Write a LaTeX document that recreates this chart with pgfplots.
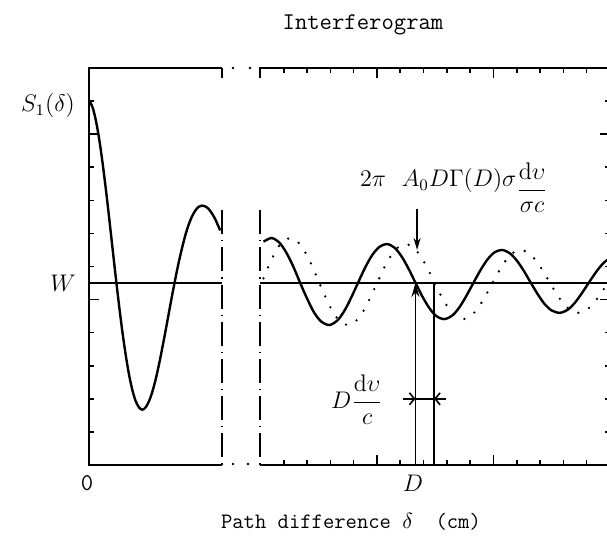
\documentclass[border=0pt]{standalone}
\usepackage{pgfplots}
\pgfplotsset{compat=1.18}
\usetikzlibrary{arrows.meta}
\begin{document}
\begin{tikzpicture}
\useasboundingbox (0,0) rectangle (303.5pt,-272pt);
\clip (0,0) rectangle (303.5pt,-272pt);
\fill[white] (0,0) rectangle (303.5pt,-272pt);
\pgfplotsset{
  panel/.style={scale only axis, anchor=south west, height=198.5pt, ymin=0, ymax=12,
    axis line style={draw=none}, tick align=inside,
    xticklabels={}, yticklabels={},
    major tick length=5pt, minor tick length=2.5pt,
    tick style={black, line width=0.8pt},
    clip=false},
}
% ---------------- left panel ----------------
\begin{axis}[panel, at={(44.75pt,-232.5pt)}, width=66pt, xmin=0, xmax=5,
  xtick=\empty, minor xtick={1,2,3,4}, xtick pos=both,
  ytick={5,10}, minor ytick={1,2,3,4,6,7,8,9,11}, ytick pos=left]
\draw[line width=1pt] (axis cs:5,12) -- (axis cs:0,12) -- (axis cs:0,0) -- (axis cs:5,0);
\draw[line width=1pt] (axis cs:5,12) -- (axis cs:5,11.7);
\draw[line width=1pt, dash pattern=on 12pt off 3pt on 0.6pt off 3pt] (axis cs:5,7.7) -- (axis cs:5,0);
\addplot[black, line width=1pt] coordinates {(0,5.5) (5,5.5)};
\addplot[black, line width=1.2pt, smooth] coordinates {
(0,11.0) (0.125,10.79) (0.25,10.38) (0.375,9.81) (0.5,9.10) (0.625,8.30) (0.75,7.43)
(0.875,6.53) (1.0,5.64) (1.125,4.79) (1.25,4.00) (1.375,3.31) (1.5,2.72) (1.625,2.26)
(1.75,1.93) (1.875,1.74) (2.0,1.67) (2.125,1.74) (2.25,1.92) (2.375,2.20) (2.5,2.57)
(2.625,3.01) (2.75,3.51) (2.875,4.03) (3.0,4.57) (3.125,5.11) (3.25,5.62) (3.375,6.11)
(3.5,6.54) (3.625,6.93) (3.75,7.25) (3.875,7.50) (4.0,7.68) (4.125,7.80) (4.25,7.84)
(4.375,7.82) (4.5,7.75) (4.625,7.62) (4.75,7.45) (4.875,7.23) (4.95,7.09)};
\end{axis}
% ---------------- right panel ----------------
\begin{axis}[panel, at={(130.25pt,-232.5pt)}, width=174.75pt, xmin=0, xmax=15,
  xtick={5,10,15}, minor xtick={1,2,3,4,6,7,8,9,11,12,13,14}, xtick pos=both,
  ytick={5,10}, minor ytick={1,2,3,4,6,7,8,9,11}, ytick pos=right]
\draw[line width=1pt] (axis cs:0,11.7) -- (axis cs:0,12) -- (axis cs:15,12) -- (axis cs:15,0) -- (axis cs:0,0);
\draw[line width=1pt, dash pattern=on 12pt off 3pt on 0.6pt off 3pt] (axis cs:0,7.7) -- (axis cs:0,0);
\addplot[black, line width=1pt] coordinates {(0,5.5) (15,5.5)};
% solid interferogram
\addplot[black, line width=1.2pt, smooth] coordinates {
(0.13,6.75) (0.47,6.86) (0.8,6.73) (1.1,6.43) (1.4,6.01) (1.7,5.51) (2.0,5.03) (2.3,4.61)
(2.6,4.34) (2.95,4.23) (3.3,4.37) (3.6,4.66) (3.9,5.07) (4.2,5.53) (4.5,5.98) (4.8,6.35)
(5.1,6.59) (5.42,6.68) (5.75,6.57) (6.05,6.31) (6.35,5.94) (6.65,5.51) (6.95,5.09) (7.25,4.74)
(7.55,4.50) (7.9,4.41) (8.25,4.53) (8.55,4.78) (8.85,5.13) (9.15,5.52) (9.45,5.90) (9.75,6.22)
(10.05,6.43) (10.37,6.50) (10.7,6.40) (11.0,6.18) (11.3,5.87) (11.6,5.51) (11.9,5.16) (12.2,4.86)
(12.5,4.67) (12.85,4.60) (13.2,4.70) (13.5,4.91) (13.8,5.20) (14.1,5.52) (14.4,5.83) (14.7,6.09) (15.0,6.26)};
% dotted (shifted) interferogram
\addplot[black, line width=1.3pt, line cap=round, dash pattern=on 0pt off 6pt, smooth] coordinates {
(0.13,5.64) (0.42,6.13) (0.72,6.54) (0.95,6.75) (1.29,6.86) (1.62,6.73) (1.92,6.43) (2.22,6.01)
(2.52,5.51) (2.82,5.03) (3.12,4.61) (3.42,4.34) (3.77,4.23) (4.12,4.37) (4.42,4.66) (4.72,5.07)
(5.02,5.53) (5.32,5.98) (5.62,6.35) (5.92,6.59) (6.24,6.68) (6.57,6.57) (6.87,6.31) (7.17,5.94)
(7.47,5.51) (7.77,5.09) (8.07,4.74) (8.37,4.50) (8.72,4.41) (9.07,4.53) (9.37,4.78) (9.67,5.13)
(9.97,5.52) (10.27,5.90) (10.57,6.22) (10.87,6.43) (11.19,6.50) (11.52,6.40) (11.82,6.18) (12.12,5.87)
(12.42,5.51) (12.72,5.16) (13.02,4.86) (13.32,4.67) (13.67,4.60) (14.02,4.70) (14.32,4.91) (14.62,5.20)
(14.92,5.52) (15.22,5.83)};
% markers
\addplot[black, line width=0.9pt, -{Stealth[length=7pt,width=4pt]}] coordinates {(6.65,0) (6.65,5.5)};
\addplot[black, line width=0.9pt] coordinates {(7.45,0) (7.45,5.5)};
\addplot[black, line width=0.9pt, -{Stealth[length=6pt,width=3.5pt]}] coordinates {(6.72,7.74) (6.72,6.5)};
\addplot[black, line width=0.8pt, -{Straight Barb[length=2.5pt,width=6pt]}] coordinates {(6.12,2.0) (6.65,2.0)};
\addplot[black, line width=0.8pt] coordinates {(6.65,2.0) (7.45,2.0)};
\addplot[black, line width=0.8pt, -{Straight Barb[length=2.5pt,width=6pt]}] coordinates {(7.95,2.0) (7.45,2.0)};
\end{axis}
% ---------------- text and break marks ----------------
\begin{scope}[x=0.5pt,y=-0.5pt]
\draw[line width=1.3pt, line cap=round, dash pattern=on 0pt off 8.5pt] (233,68) -- (252,68);
\draw[line width=1.3pt, line cap=round, dash pattern=on 0pt off 7.5pt] (233,464) -- (250,464);
\node[font=\fontsize{12}{14}\selectfont\ttfamily] at (363,25) {Interferogram};
\node[font=\fontsize{11}{13}\selectfont\ttfamily] at (351,522) {Path difference $\delta$\ \ (cm)};
\node[font=\fontsize{12}{14}\selectfont] at (48,106) {$S_1(\delta)$};
\node[font=\fontsize{12}{14}\selectfont] at (63,283) {$W$};
\node[font=\fontsize{12}{14}\selectfont\ttfamily] at (87,483) {0};
\node[font=\fontsize{12}{14}\selectfont] at (413,483) {$D$};
\node[font=\fontsize{12}{14}\selectfont] at (454,188) {$2\pi\ \ A_0D\Gamma(D)\sigma\raisebox{-0.9ex}{$\displaystyle\frac{\mathrm{d}\upsilon}{\sigma c}$}$};
\node[font=\fontsize{12}{14}\selectfont] at (357,400) {$D\displaystyle\frac{\mathrm{d}\upsilon}{c}$};
\end{scope}
\end{tikzpicture}
\end{document}
